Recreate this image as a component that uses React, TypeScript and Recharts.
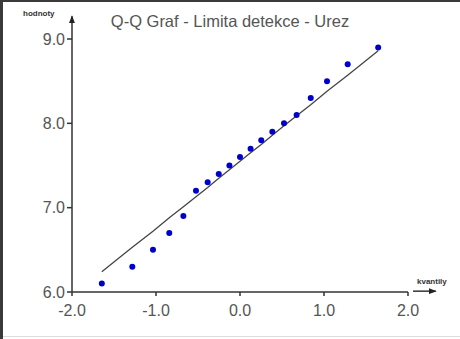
import React from 'react';
import {
  ComposedChart,
  Scatter,
  Line,
  XAxis,
  YAxis,
  ReferenceLine,
} from 'recharts';

// theoretical normal quantiles (x) and sorted sample values (y)
const quantiles = [
  -1.645, -1.282, -1.036, -0.842, -0.674, -0.524, -0.385, -0.253, -0.126, 0,
  0.126, 0.253, 0.385, 0.524, 0.674, 0.842, 1.036, 1.282, 1.645,
];
const values = [
  6.1, 6.3, 6.5, 6.7, 6.9, 7.2, 7.3, 7.4, 7.5, 7.6, 7.7, 7.8, 7.9, 8.0, 8.1,
  8.3, 8.5, 8.7, 8.9,
];
// fitted line
const fitValues = [
  6.24, 6.53, 6.72, 6.88, 7.01, 7.13, 7.24, 7.35, 7.45, 7.55, 7.65, 7.75, 7.86,
  7.97, 8.09, 8.22, 8.38, 8.57, 8.86,
];
const xTicks = [-2, -1, 0, 1, 2];
const yTicks = [6, 7, 8, 9];

const title = 'Q-Q Graf - Limita detekce - Urez';
const yName = 'hodnoty';
const xName = 'kvantily';

const data = quantiles.map((q, i) => ({ q, value: values[i], fit: fitValues[i] }));

const font = 'Arial, "Liberation Sans", sans-serif';
const axisColor = '#333';

function Dot(props: { cx?: number; cy?: number }) {
  if (props.cx == null || props.cy == null) return null;
  return <circle cx={props.cx} cy={props.cy} r={3} fill="#0000cc" />;
}

export default function App() {
  return (
    <div
      style={{
        position: 'absolute',
        left: 0,
        top: 0,
        width: 460,
        height: 339,
        background: '#fff',
        overflow: 'hidden',
        fontFamily: font,
      }}
    >
      <div style={{ position: 'absolute', left: 0, top: 0, width: 460, height: 2, background: '#3a3a3a' }} />
      <div style={{ position: 'absolute', left: 0, top: 0, width: 3, height: 339, background: '#3a3a3a' }} />
      <div style={{ position: 'absolute', left: 3, top: 336, width: 457, height: 1, background: '#ddd' }} />
      <div
        style={{
          position: 'absolute',
          left: 0,
          width: 460,
          top: 11,
          textAlign: 'center',
          fontSize: 16.5,
          color: '#555',
          lineHeight: '20px',
        }}
      >
        <span style={{ marginLeft: 0 }}>{title}</span>
      </div>
      <div style={{ position: 'absolute', left: 23, top: 9, fontSize: 8, fontWeight: 'bold', color: '#333' }}>
        {yName}
      </div>
      <div style={{ position: 'absolute', left: 417, top: 277, fontSize: 8, fontWeight: 'bold', color: '#333' }}>
        {xName}
      </div>
      <ComposedChart
        width={460}
        height={339}
        data={data}
        margin={{ top: 39, right: 52, bottom: 17, left: 32 }}
        style={{ position: 'absolute', left: 0, top: 0 }}
      >
        <defs>
          <marker id="arrowHead" markerWidth="8" markerHeight="6" refX="7" refY="3" orient="auto" markerUnits="userSpaceOnUse">
            <path d="M0,0 L8,3 L0,6 z" fill="#222" />
          </marker>
        </defs>
        <XAxis
          type="number"
          dataKey="q"
          domain={[-2, 2]}
          ticks={xTicks}
          tickFormatter={(v: number) => v.toFixed(1)}
          height={30}
          tickSize={4}
          tickMargin={9}
          axisLine={{ stroke: axisColor, strokeWidth: 1.5 }}
          tickLine={{ stroke: axisColor, strokeWidth: 1.5 }}
          tick={{ fill: '#555', fontSize: 16, fontFamily: font }}
          allowDataOverflow
        />
        <YAxis
          type="number"
          domain={[6, 9]}
          ticks={yTicks}
          tickFormatter={(v: number) => v.toFixed(1)}
          width={40}
          tickSize={5}
          tickMargin={2}
          axisLine={false}
          tickLine={{ stroke: axisColor, strokeWidth: 1.5 }}
          tick={{ fill: '#555', fontSize: 16, fontFamily: font }}
          allowDataOverflow
        />
        <ReferenceLine
          segment={[{ x: -2, y: 6 }, { x: -2, y: 9.27 }]}
          stroke={axisColor}
          strokeWidth={1.5}
          ifOverflow="visible"
          markerEnd="url(#arrowHead)"
        />
        <ReferenceLine
          segment={[{ x: 2.06, y: 6.01 }, { x: 2.33, y: 6.01 }]}
          stroke={axisColor}
          strokeWidth={1.5}
          ifOverflow="visible"
          markerEnd="url(#arrowHead)"
        />
        <Line
          type="linear"
          dataKey="fit"
          stroke="#444"
          strokeWidth={1.3}
          dot={false}
          activeDot={false}
          isAnimationActive={false}
        />
        <Scatter dataKey="value" shape={<Dot />} isAnimationActive={false} />
      </ComposedChart>
    </div>
  );
}
